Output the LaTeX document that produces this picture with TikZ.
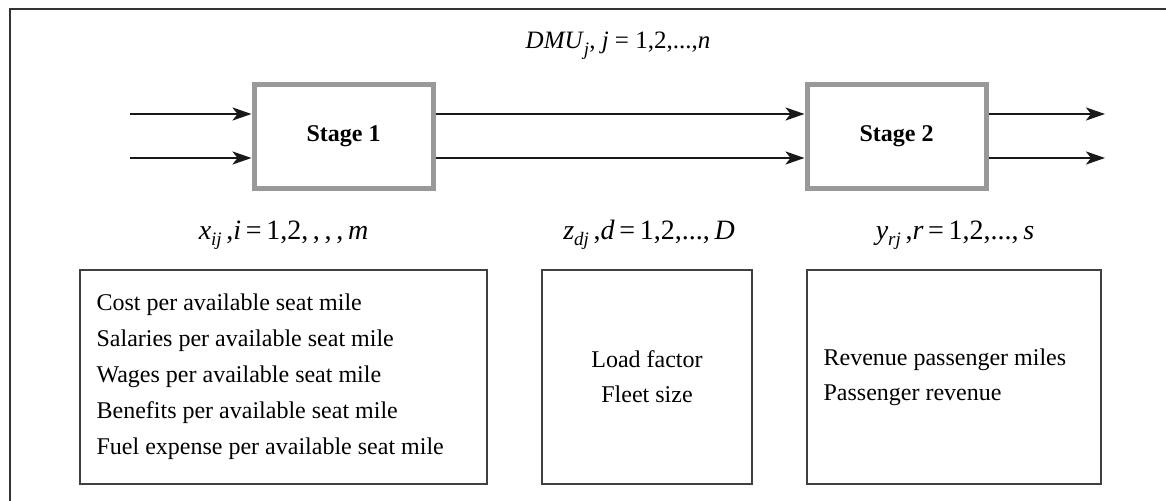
\documentclass[tikz,border=0pt]{standalone}
\usepackage{fontspec}
\setmainfont{Liberation Serif}
\usetikzlibrary{arrows.meta}
% lowered italic index, as in the variable labels
\newcommand\lowidx[2][0.5ex]{\raisebox{-#1}{\fontsize{9.5}{10}\selectfont\textit{#2}}}

\begin{document}
\begin{tikzpicture}[x=0.5pt,y=-0.5pt,
  stagebox/.style={draw=black!40, line width=2.5pt, fill=white,
    minimum width=89.5pt, minimum height=52pt, inner sep=0pt,
    font=\bfseries\fontsize{12}{14}\selectfont},
  listbox/.style={draw=black!75, line width=0.8pt,
    minimum height=107pt, inner sep=0pt},
  listtext/.style={inner sep=0pt, font=\fontsize{12}{18}\selectfont},
  varlabel/.style={inner sep=0pt, font=\fontsize{14}{16}\selectfont},
  flow/.style={draw=black!90, line width=1.25pt,
    -{Stealth[length=9.5pt,width=6.5pt,inset=2.5pt]}},
  frame/.style={draw=black!80, line width=1pt}
]
\useasboundingbox (0,0) rectangle (1166,501);

% partial outer frame
\draw[frame] (10,501) -- (10,9) -- (1166,9);

% title
\node[inner sep=0pt, font=\fontsize{12.5}{14}\selectfont] (dmu) at (618,46)
  {\textit{DMU}\lowidx[0.6ex]{j},\ \textit{j} = 1,2,...,\textit{n}};

% the two stages
\node[stagebox] (s1) at (343.5,136.5) {Stage 1};
\node[stagebox] (s2) at (896.5,136.5) {Stage 2};

% levels of the two parallel flows
\coordinate (ina) at (130,114);
\coordinate (inb) at (130,158);
\coordinate (outa) at (1105,114);
\coordinate (outb) at (1105,158);

\draw[flow] (ina) -- (s1.west |- ina);
\draw[flow] (inb) -- (s1.west |- inb);
\draw[flow] (s1.east |- ina) -- (s2.west |- ina);
\draw[flow] (s1.east |- inb) -- (s2.west |- inb);
\draw[flow] (s2.east |- outa) -- (outa);
\draw[flow] (s2.east |- outb) -- (outb);

% variable labels
\node[varlabel] (xl) at (283.5,235)
  {\textit{x}\lowidx{ij}\,,\textit{i}\,=\,1,2,\,,\,,\,,\,\textit{m}};
\node[varlabel] (zl) at (649,235)
  {\textit{z}\lowidx{dj}\,,\textit{d}\,=\,1,2,...,\,\textit{D}};
\node[varlabel] (yl) at (955,235)
  {\textit{y}\lowidx{rj}\,,\textit{r}\,=\,1,2,...,\,\textit{s}};

% lists of measures
\node[listbox, minimum width=203.5pt] (inbox) at (283.5,377) {};
\node[listbox, minimum width=105pt] (midbox) at (647,377) {};
\node[listbox, minimum width=147pt] (outbox) at (954,377) {};

\node[listtext, anchor=west, align=left] (intext) at ([xshift=8.5pt]inbox.west)
  {Cost per available seat mile\\
   Salaries per available seat mile\\
   Wages per available seat mile\\
   Benefits per available seat mile\\
   Fuel expense per available seat mile};
\node[listtext, align=center, font=\fontsize{12}{17.5}\selectfont] (midtext) at (midbox.center)
  {Load factor\\ Fleet size};
\node[listtext, anchor=west, align=left, font=\fontsize{12}{17.5}\selectfont] (outtext) at ([xshift=8.5pt]outbox.west)
  {Revenue passenger miles\\ Passenger revenue};
\end{tikzpicture}
\end{document}
